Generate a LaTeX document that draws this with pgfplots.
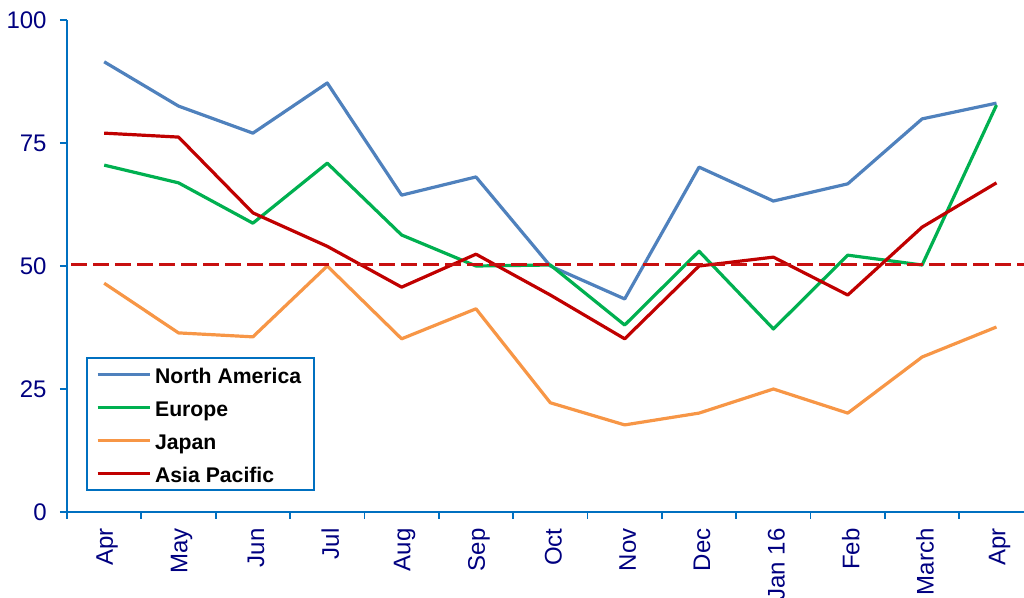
\documentclass[border=0pt]{standalone}
\usepackage{pgfplots}
\pgfplotsset{compat=1.18}
\usepackage{fontspec}
\setmainfont{Liberation Sans}
\definecolor{na}{HTML}{4F81BD}
\definecolor{eu}{HTML}{00B050}
\definecolor{jp}{HTML}{F79646}
\definecolor{ap}{HTML}{C00000}
\definecolor{axblue}{HTML}{0070C0}
\definecolor{navy}{HTML}{000080}
\definecolor{refline}{HTML}{C81010}
\begin{document}
\begin{tikzpicture}
\begin{axis}[
  name=ax,
  scale only axis,
  width=478.5pt, height=246pt,
  xmin=-0.5, xmax=12.37,
  ymin=0, ymax=100,
  axis x line*=bottom,
  axis y line*=left,
  axis line style={draw=axblue, line width=0.9pt},
  every tick/.style={draw=axblue, line width=0.9pt},
  tick align=outside,
  major tick length=3.5pt,
  ytick={0,25,50,75,100},
  xtick={-0.5,0.5,...,11.5},
  xticklabels={},
  extra x ticks={0,1,...,12},
  extra x tick labels={Apr,May,Jun,Jul,Aug,Sep,Oct,Nov,Dec,Jan 16,Feb,March,Apr},
  extra x tick style={major tick length=0pt, tick style={draw=none},
     xticklabel style={rotate=90, anchor=east, inner sep=0pt, xshift=-8pt, yshift=-1.5pt}},
  tick label style={font=\fontsize{12}{14}\selectfont, text=navy},
  yticklabel style={anchor=east, inner sep=0pt, xshift=-6.5pt},
  /pgf/number format/assume math mode=true,
  clip=true,
  legend style={at={(0.0199,0.0427)}, anchor=south west, draw=axblue, line width=0.9pt,
    font=\fontsize{10.6}{12}\selectfont\bfseries, inner xsep=4.5pt, inner ysep=1pt, row sep=2pt,
    nodes={inner sep=2pt, text height=9.5pt, text depth=1pt}},
  legend cell align=left,
  legend image code/.code={\draw[#1] (0pt,0pt) -- (26pt,0pt);},
  every axis plot/.append style={line width=1.6pt, line join=round},
]
\addplot[na] coordinates {(0,91.5)(1,82.5)(2,77)(3,87.2)(4,64.4)(5,68.1)(6,50)(7,43.3)(8,70.1)(9,63.2)(10,66.7)(11,79.9)(12,83.1)};
\addlegendentry{North America}
\addplot[eu] coordinates {(0,70.5)(1,66.9)(2,58.7)(3,70.9)(4,56.3)(5,50)(6,50.2)(7,38)(8,53)(9,37.2)(10,52.2)(11,50.2)(12,82.7)};
\addlegendentry{Europe}
\addplot[jp] coordinates {(0,46.5)(1,36.4)(2,35.6)(3,50)(4,35.2)(5,41.3)(6,22.2)(7,17.7)(8,20.1)(9,25)(10,20.1)(11,31.5)(12,37.6)};
\addlegendentry{Japan}
\addplot[ap] coordinates {(0,77)(1,76.2)(2,60.8)(3,54)(4,45.7)(5,52.4)(6,44.1)(7,35.2)(8,50)(9,51.8)(10,44.1)(11,57.9)(12,66.9)};
\addlegendentry{Asia Pacific}
\addplot[refline, line width=1.1pt, dash pattern=on 8pt off 3pt, forget plot] coordinates {(-0.44,50.3)(12.37,50.3)};
\end{axis}
\pgfresetboundingbox
\path ([shift={(-33.5pt,-43pt)}]ax.south west) rectangle ([shift={(0pt,10pt)}]ax.north east);
\end{tikzpicture}
\end{document}
